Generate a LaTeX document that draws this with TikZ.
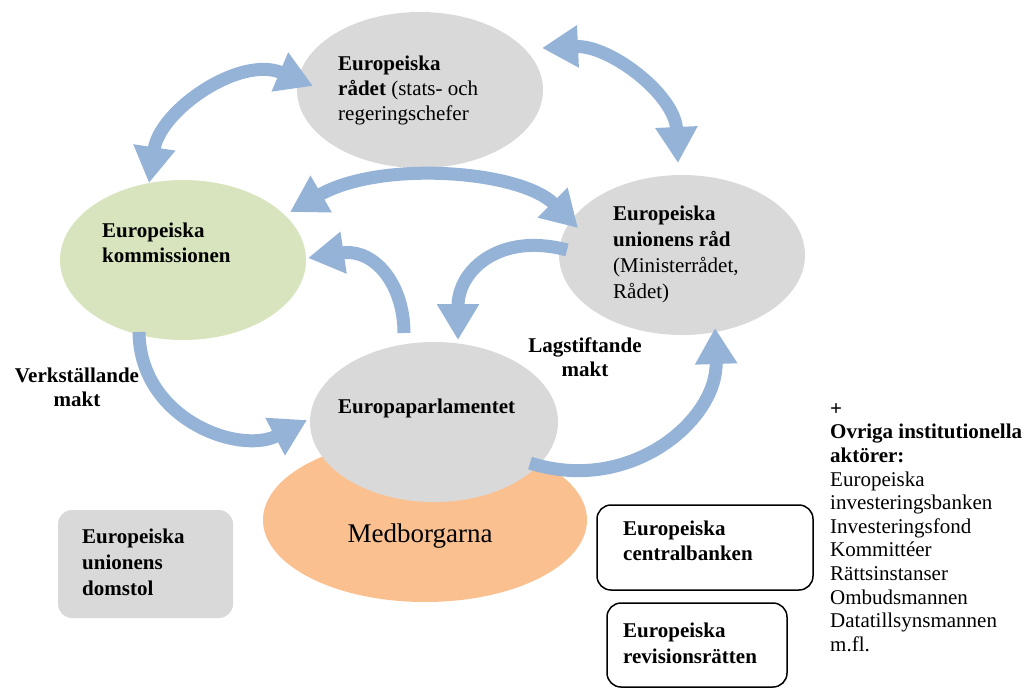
\documentclass[tikz,border=0pt]{standalone}
\usepackage{fontspec}
\setmainfont{Liberation Serif}
\usetikzlibrary{arrows.meta,shapes.geometric}
\definecolor{ggray}{HTML}{D9D9D9}
\definecolor{ggreen}{HTML}{D7E4BD}
\definecolor{gorange}{HTML}{FAC090}
\definecolor{gblue}{HTML}{95B3D7}
\tikzset{
  ell/.style={ellipse, draw=none, inner sep=0pt},
  blu/.style={draw=gblue, line width=13pt},
  onehead/.style={-{Triangle[length=36pt,width=40pt]}},
  twohead/.style={{Triangle[length=36pt,width=40pt]}-{Triangle[length=36pt,width=40pt]}},
  txt/.style={inner sep=0pt, align=left, anchor=north west, font=\fontsize{21}{25}\selectfont},
  txtb/.style={txt, font=\fontsize{21}{26}\selectfont},
  lbl/.style={inner sep=0pt, align=center, anchor=north, font=\fontsize{21}{24}\bfseries},
  box/.style={rounded corners=14pt, inner sep=0pt}
}
\begin{document}
\begin{tikzpicture}[x=1pt,y=-1pt]
\useasboundingbox (0,0) rectangle (1025,689);
% ellipses
\node[ell, fill=ggray, minimum width=246, minimum height=156] (rad) at (420,90) {};
\node[ell, fill=ggreen, minimum width=246, minimum height=160] (kom) at (183,260) {};
\node[ell, fill=ggray, minimum width=246, minimum height=160] (eur) at (682,255) {};
\node[ell, fill=gorange, minimum width=324, minimum height=164] (med) at (425,520) {};
\node[ell, fill=ggray, minimum width=248, minimum height=160] (par) at (434,422) {};
% boxes
\node[box, fill=ggray, minimum width=175, minimum height=108] (dom) at (145.5,564) {};
\node[box, draw=black, line width=1.5pt, fill=white, minimum width=216, minimum height=85] (ecb) at (705,547.5) {};
\node[box, draw=black, line width=1.5pt, fill=white, minimum width=180, minimum height=84] (rev) at (697,645) {};
% arrow end points
\coordinate (a1s) at (149,183); \coordinate (a1e) at (313,86);
\coordinate (a2s) at (542,48);  \coordinate (a2e) at (678,163);
\coordinate (a3s) at (290,212); \coordinate (a3e) at (578,228);
\coordinate (a4s) at (404,333); \coordinate (a4e) at (308,258);
\coordinate (a5s) at (567,250); \coordinate (a5e) at (458,340);
\coordinate (a6s) at (139,332); \coordinate (a6e) at (307,420);
\coordinate (a7s) at (530,463); \coordinate (a7e) at (715,328);
% arrows
\draw[blu, twohead] (a1s) .. controls (160,110) and (240,55) .. (a1e);
\draw[blu, twohead] (a2s) .. controls (610,45) and (675,95) .. (a2e);
\draw[blu, twohead] (a3s) .. controls (380,160) and (520,170) .. (a3e);
\draw[blu, onehead] (a4s) .. controls (404,285) and (375,248) .. (a4e);
\draw[blu, onehead] (a5s) .. controls (500,232) and (458,270) .. (a5e);
\draw[blu, onehead] (a6s) .. controls (140,420) and (240,455) .. (a6e);
\draw[blu, onehead] (a7s) .. controls (630,495) and (718,420) .. (a7e);
% texts
\node[txt] (radt) at (338,52.5) {\strut\textbf{Europeiska}\\\textbf{rådet} (stats- och\\regeringschefer};
\node[txt] (komt) at (102,219.5) {\strut\textbf{Europeiska}\\\textbf{kommissionen}};
\node[txtb] (eurt) at (613,201.8) {\strut\textbf{Europeiska}\\\textbf{unionens råd}\\(Ministerrådet,\\Rådet)};
\node[inner sep=0pt, anchor=base west, font=\fontsize{21}{25}\bfseries] (part) at (338,413) {Europaparlamentet};
\node[inner sep=0pt, anchor=base, font=\fontsize{27}{30}\selectfont] (medt) at (420,542) {Medborgarna};
\node[txtb, font=\fontsize{21}{26}\bfseries] (domt) at (82,524.8) {\strut Europeiska\\unionens\\domstol};
\node[txt, font=\fontsize{21}{25}\bfseries] (ecbt) at (623,517.5) {\strut Europeiska\\centralbanken};
\node[txt, font=\fontsize{21}{26}\bfseries] (revt) at (623,618.8) {\strut Europeiska\\revisionsrätten};
\node[inner sep=0pt, align=left, anchor=north west, font=\fontsize{21}{23.6}\selectfont] (ovr) at (830,398.5)
  {\strut\textbf{+}\\\textbf{Ovriga institutionella}\\\textbf{aktörer:}\\Europeiska\\investeringsbanken\\Investeringsfond\\Kommittéer\\Rättsinstanser\\Ombudsmannen\\Datatillsynsmannen\\m.fl.};
\node[lbl] (verk) at (77,365.2) {\strut Verkställande\\makt};
\node[lbl] (lag) at (585,335.2) {\strut Lagstiftande\\makt};
\end{tikzpicture}
\end{document}
